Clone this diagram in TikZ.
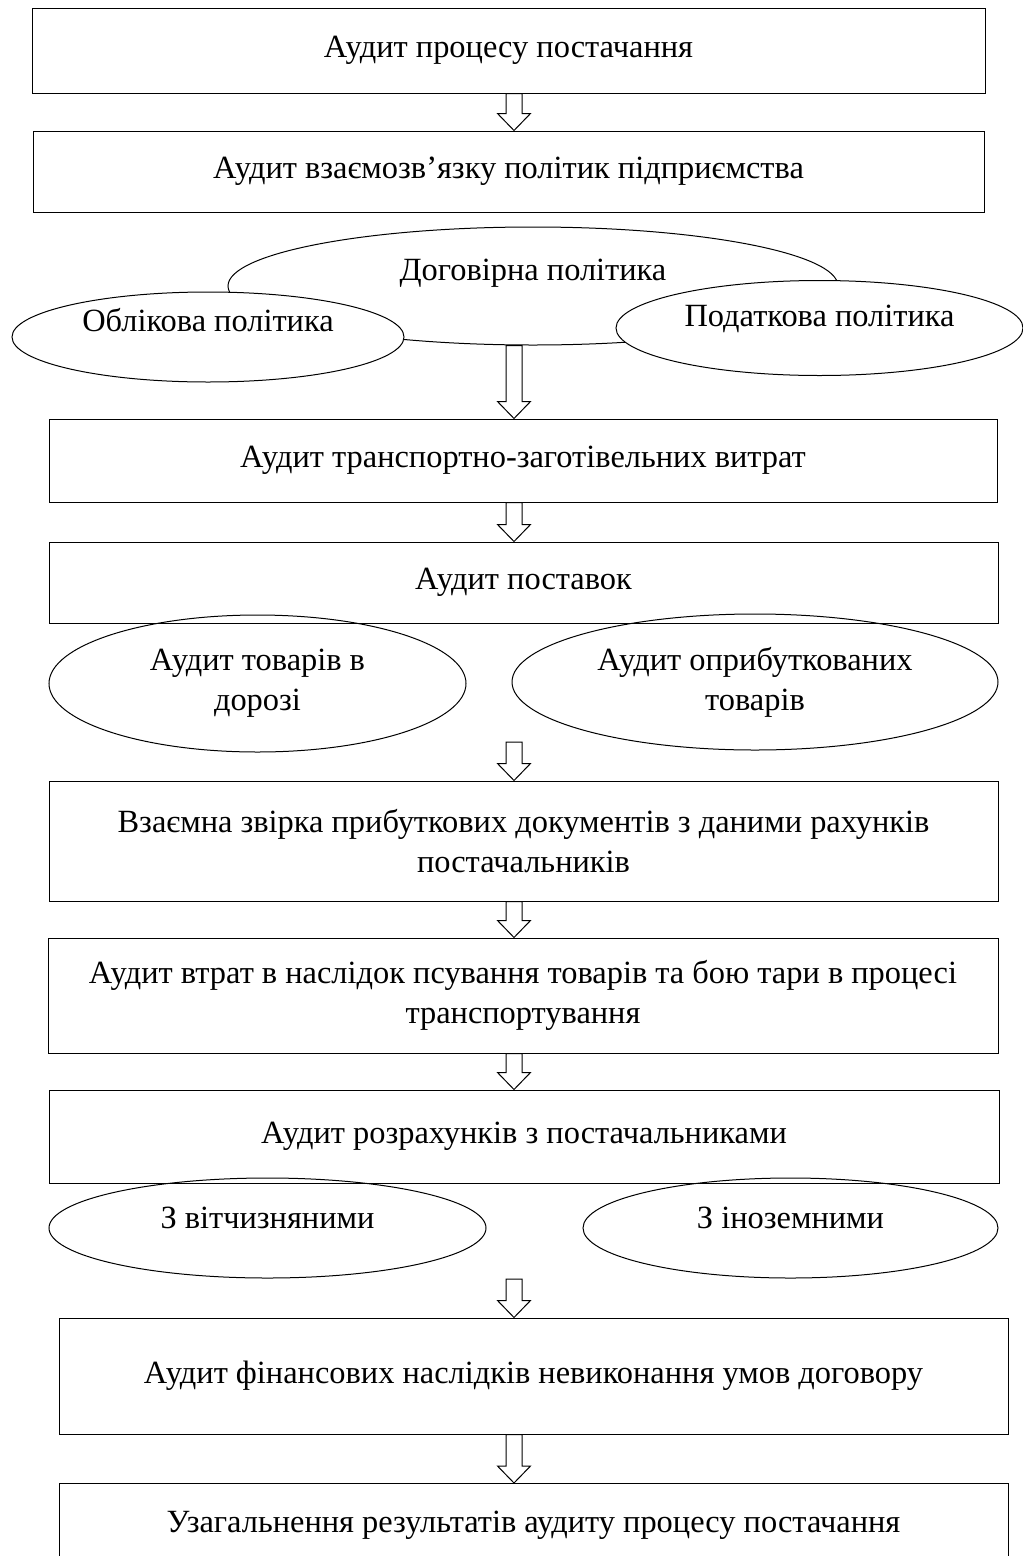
\documentclass[tikz,border=0pt]{standalone}
\usepackage{fontspec}
\setmainfont{Liberation Serif}
\usetikzlibrary{shapes.geometric,calc}

\begin{document}
\begin{tikzpicture}[x=1pt,y=-1pt,line width=1pt,
    font=\fontsize{32.4}{40}\selectfont,
    box/.style={draw, rectangle, inner sep=0pt, align=center},
    oval/.style={draw, ellipse, inner sep=0pt, align=center},
    hollow/.style={to path={let \p1=(\tikztostart), \p2=(\tikztotarget) in
        (\x1-8pt,\y1) -- (\x1-8pt,\y2+17pt) -- (\x1-16.5pt,\y2+17pt) -- (\x1,\y2)
        -- (\x1+16.5pt,\y2+17pt) -- (\x1+8pt,\y2+17pt) -- (\x1+8pt,\y1) -- cycle}}]
    \useasboundingbox (0,0) rectangle (1023,1556);
    \clip (0,0) rectangle (1023,1556);

    \node[box, minimum width=953, minimum height=85] (A) at (508.5,50.5) {Аудит процесу постачання};
    \node[box, minimum width=951, minimum height=81] (B) at (508.5,171.5) {Аудит взаємозв’язку політик підприємства};
    \node[oval, minimum width=610, minimum height=118, label={[yshift=13pt]center:Договірна політика}] (C) at (533,286) {};
    \node[oval, fill=white, minimum width=392, minimum height=90, label={[yshift=17pt]center:Облікова політика}] (D) at (208,337) {};
    \node[oval, fill=white, minimum width=407, minimum height=95, label={[yshift=9pt]center:Податкова політика}] (E) at (819.5,328) {};
    \node[box, minimum width=948, minimum height=83] (F) at (523,460.5) {Аудит транспортно-заготівельних витрат};
    \node[box, minimum width=949, minimum height=81] (G) at (523.5,582.5) {Аудит поставок};
    \node[oval, minimum width=417, minimum height=137] (H) at (257.5,683.5) {Аудит товарів в\\дорозі};
    \node[oval, minimum width=486, minimum height=136] (I) at (755,682) {Аудит оприбуткованих\\товарів};
    \node[box, minimum width=949, minimum height=120] (J) at (523.5,841) {Взаємна звірка прибуткових документів з даними рахунків\\постачальників};
    \node[box, minimum width=950, minimum height=115] (K) at (523,995.5) {Аудит втрат в наслідок псування товарів та бою тари в процесі\\транспортування};
    \node[box, minimum width=950, minimum height=93] (L) at (524,1136.5) {Аудит розрахунків з постачальниками};
    \node[oval, minimum width=437, minimum height=100, label={[yshift=10pt]center:З вітчизняними}] (M) at (267.5,1228) {};
    \node[oval, minimum width=415, minimum height=100, label={[yshift=10pt]center:З іноземними}] (N) at (790.5,1228) {};
    \node[box, minimum width=949, minimum height=116] (O) at (533.5,1376) {Аудит фінансових наслідків невиконання умов договору};
    \node[box, anchor=north, minimum width=949, minimum height=84] (P) at (533.5,1483) {Узагальнення результатів аудиту процесу постачання};

    \coordinate (X) at (514,0);
    \coordinate (S4) at (514,742);
    \coordinate (S7) at (514,1279);

    \draw (A.south -| X) edge[hollow] (B.north -| X);
    \draw (C.south -| X) edge[hollow] (F.north -| X);
    \draw (F.south -| X) edge[hollow] (G.north -| X);
    \draw (S4) edge[hollow] (J.north -| X);
    \draw (J.south -| X) edge[hollow] (K.north -| X);
    \draw (K.south -| X) edge[hollow] (L.north -| X);
    \draw (S7) edge[hollow] (O.north -| X);
    \draw (O.south -| X) edge[hollow] (P.north -| X);
\end{tikzpicture}
\end{document}
